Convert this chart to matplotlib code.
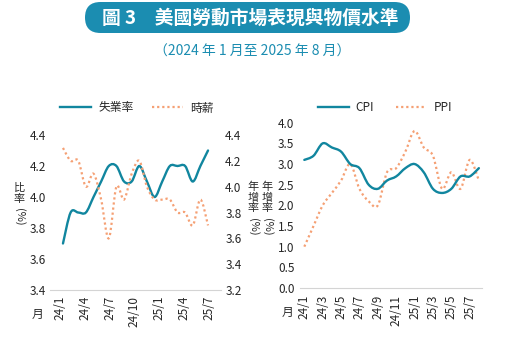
import matplotlib
matplotlib.use('Agg')
import matplotlib.pyplot as plt
import numpy as np
from matplotlib.path import Path
from matplotlib.patches import PathPatch, FancyBboxPatch
from matplotlib.lines import Line2D

plt.rcParams['font.family'] = ['Noto Sans CJK TC', 'DejaVu Sans']

# monthly data, 2024/1 - 2025/8
unemp = [3.7, 3.9, 3.9, 3.9, 4.0, 4.1, 4.2, 4.2, 4.1, 4.1,
         4.2, 4.1, 4.0, 4.1, 4.2, 4.2, 4.2, 4.1, 4.2, 4.3]
wage = [4.3, 4.2, 4.2, 4.0, 4.1, 3.9, 3.6, 4.0, 3.9, 4.1,
        4.2, 4.0, 3.9, 3.9, 3.9, 3.8, 3.8, 3.7, 3.9, 3.7]
cpi = [3.1, 3.2, 3.5, 3.4, 3.3, 3.0, 2.9, 2.5, 2.4, 2.6,
       2.7, 2.9, 3.0, 2.8, 2.4, 2.3, 2.4, 2.7, 2.7, 2.9]
ppi = [1.0, 1.5, 2.0, 2.3, 2.6, 3.0, 2.4, 2.1, 2.0, 2.8,
       2.9, 3.3, 3.8, 3.4, 3.2, 2.4, 2.8, 2.4, 3.1, 2.6]

left_labels = ['24/1', '24/4', '24/7', '24/10', '25/1', '25/4', '25/7']
right_labels = ['24/1', '24/3', '24/5', '24/7', '24/9', '24/11',
                '25/1', '25/3', '25/5', '25/7']

TEAL = '#11869f'
ORANGE = '#f5a074'
BANNER = '#1b8db1'
TXT = '#262626'

W, H = 517, 348


def px(x, y):
    return x / W, 1 - y / H


def smooth_path(y):
    # excel-style smoothed line: catmull-rom segments as cubic beziers
    x = np.arange(len(y), dtype=float)
    y = np.asarray(y, dtype=float)
    P = np.column_stack([x, y])
    P = np.vstack([P[0], P, P[-1]])
    verts = [tuple(P[1])]
    codes = [Path.MOVETO]
    for i in range(len(x) - 1):
        c1 = P[i + 1] + (P[i + 2] - P[i]) / 6
        c2 = P[i + 2] - (P[i + 3] - P[i + 1]) / 6
        verts += [tuple(c1), tuple(c2), tuple(P[i + 2])]
        codes += [Path.CURVE4] * 3
    return Path(verts, codes)


def draw(ax, y, color, dotted=False):
    if dotted:
        patch = PathPatch(smooth_path(y), fill=False, edgecolor=color, lw=1.6,
                          linestyle=(0, (1, 1.3)), transform=ax.transData)
    else:
        patch = PathPatch(smooth_path(y), fill=False, edgecolor=color, lw=1.7,
                          transform=ax.transData, capstyle='round')
    ax.add_patch(patch)


def clean(ax):
    for s in ax.spines.values():
        s.set_visible(False)
    ax.spines['bottom'].set_visible(True)
    ax.spines['bottom'].set_color('#d4d4d4')
    ax.tick_params(length=0, labelsize=8.5, labelcolor=TXT)


def vlabel(x, y0, chars):
    # vertical CJK axis title: stacked characters, then rotated (%)
    y = y0
    for c in chars:
        fig.text(*px(x, y), c, fontsize=8, ha='center', va='center', color=TXT)
        y += 10.5
    fig.text(*px(x, y + 8), '(%)', fontsize=8, ha='center', va='center',
             rotation=-90, color=TXT)


fig = plt.figure(figsize=(W / 100, H / 100), dpi=100)

# title banner
fig.add_artist(FancyBboxPatch((0.85, 3.15), 3.25, 0.31,
                              boxstyle='round,pad=0,rounding_size=0.155',
                              transform=fig.dpi_scale_trans,
                              fc=BANNER, ec='none'))
fig.text(*px(250, 18), '圖 3　美國勞動市場表現與物價水準', color='white',
         fontsize=13.5, fontweight='bold', ha='center', va='center')
fig.text(*px(252, 52), '（2024 年 1 月至 2025 年 8 月）', color=BANNER,
         fontsize=10, ha='center', va='center')

# ---- left chart: unemployment / wages
ax = fig.add_axes([50 / W, 1 - 290 / H, 171 / W, 155 / H])
ax.set_xlim(-1.7, 20.7)
ax.set_ylim(3.4, 4.4)
ax.set_yticks(np.arange(3.4, 4.41, 0.2))
ax.set_yticklabels([f'{v:.1f}' for v in np.arange(3.4, 4.41, 0.2)])
ax.set_xticks(np.linspace(-0.4, 19.1, len(left_labels)))
ax.set_xticklabels(left_labels, rotation=90)
clean(ax)
ax.tick_params(axis='y', pad=3)
ax.tick_params(axis='x', pad=4)
draw(ax, unemp, TEAL)

ax2 = ax.twinx()
ax2.set_ylim(3.2, 4.4)
ax2.set_yticks(np.arange(3.2, 4.41, 0.2))
ax2.set_yticklabels([f'{v:.1f}' for v in np.arange(3.2, 4.41, 0.2)])
clean(ax2)
ax2.spines['bottom'].set_visible(False)
ax2.tick_params(axis='y', pad=3)
draw(ax2, wage, ORANGE, dotted=True)

h1 = [Line2D([], [], color=TEAL, lw=1.7),
      Line2D([], [], color=ORANGE, lw=1.6, linestyle=(0, (1, 1.3)))]
fig.legend(h1, ['失業率', '時薪'], loc='center', bbox_to_anchor=px(137, 108),
           ncol=2, frameon=False, fontsize=8.5, handlelength=2.6,
           handletextpad=0.6, columnspacing=1.6, labelcolor=TXT)

vlabel(19, 188, '比率')
vlabel(253, 187, '年增率')
fig.text(*px(37, 314), '月', fontsize=8.5, ha='center', va='center', color=TXT)

# ---- right chart: CPI / PPI
bx = fig.add_axes([300 / W, 1 - 288 / H, 182 / W, 165.3 / H])
bx.set_xlim(-0.47, 19.34)
bx.set_ylim(0, 4.0)
bx.set_yticks(np.arange(0, 4.01, 0.5))
bx.set_yticklabels([f'{v:.1f}' for v in np.arange(0, 4.01, 0.5)])
bx.set_xticks(np.arange(0, 19, 2))
bx.set_xticklabels(right_labels, rotation=90)
clean(bx)
bx.tick_params(axis='y', pad=4)
bx.tick_params(axis='x', pad=5)
draw(bx, ppi, ORANGE, dotted=True)
draw(bx, cpi, TEAL)

h2 = [Line2D([], [], color=TEAL, lw=1.7),
      Line2D([], [], color=ORANGE, lw=1.6, linestyle=(0, (1, 1.3)))]
fig.legend(h2, ['CPI', 'PPI'], loc='center', bbox_to_anchor=px(385, 108),
           ncol=2, frameon=False, fontsize=8.5, handlelength=2.6,
           handletextpad=0.6, columnspacing=1.8, labelcolor=TXT)

vlabel(267, 187, '年增率')
fig.text(*px(287, 312), '月', fontsize=8.5, ha='center', va='center', color=TXT)

fig.savefig('out.png', dpi=100)
